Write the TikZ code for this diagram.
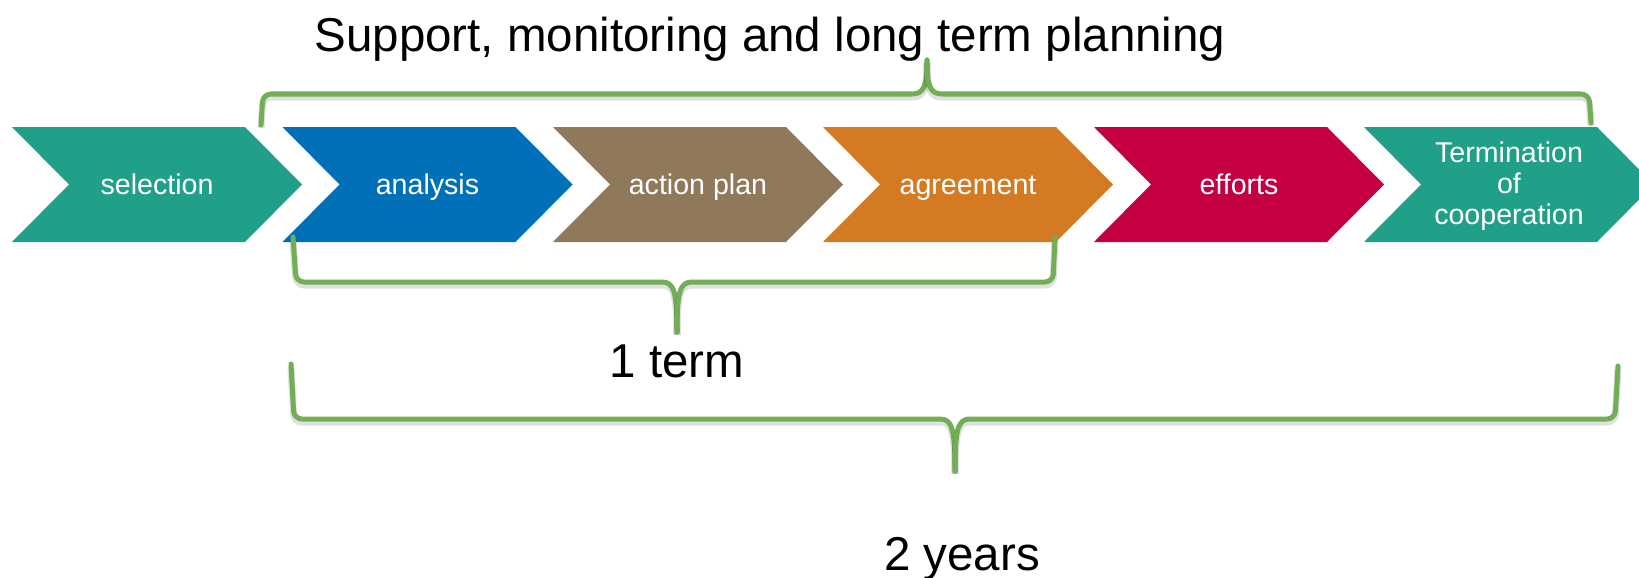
\documentclass[tikz,border=0pt]{standalone}
\usepackage{fontspec}
\setmainfont{Liberation Sans}
\definecolor{cteal}{HTML}{21A089}
\definecolor{cblue}{HTML}{0070B8}
\definecolor{cbrown}{HTML}{90785A}
\definecolor{corange}{HTML}{D47A22}
\definecolor{ccrimson}{HTML}{C40040}
\definecolor{bgreen}{HTML}{72AE56}
\begin{document}
\begin{tikzpicture}[x=1pt,y=-1pt,
  chevlabel/.style={text=white, font=\fontsize{28.6}{31}\selectfont, inner sep=0pt, anchor=base},
  biglabel/.style={text=black, font=\fontsize{47.5}{52}\selectfont, inner sep=0pt, anchor=base},
  brace/.style={draw=bgreen, line width=5pt, line cap=round, line join=round,
    preaction={draw=black, opacity=0.12, line width=7pt, transform canvas={yshift=-3pt}}}]
\useasboundingbox (0,0) rectangle (1639,578);
\clip (0,0) rectangle (1639,578);
% chevrons
\foreach \l/\c in {12/cteal, 282.5/cblue, 553/cbrown, 823/corange, 1094/ccrimson, 1364/cteal}{
  \fill[\c] (\l,127) -- ++(233,0) -- ++(57,57.5) -- ++(-57,57.5) -- ++(-233,0) -- ++(57,-57.5) -- cycle;
}
\node[chevlabel] (sel) at (157,194) {selection};
\node[chevlabel] (ana) at (427.5,194) {analysis};
\node[chevlabel] (act) at (698,194) {action plan};
\node[chevlabel] (agr) at (968,194) {agreement};
\node[chevlabel] (eff) at (1239,194) {efforts};
\node[chevlabel, anchor=center, align=center] (ter) at (1509,186) {Termination\\of\\cooperation};
% top brace
\draw[brace] (261,125) [rounded corners=8pt] -- (263,94) [sharp corners] -- (912,94) .. controls (924,94) and (927,86) .. (927,60);
\draw[brace] (927,60) .. controls (927,86) and (930,94) .. (942,94) [rounded corners=8pt] -- (1589,94) [sharp corners] -- (1591,123);
% 1 term brace
\draw[brace] (293,237) [rounded corners=8pt] -- (296,282) [sharp corners] -- (662,282) .. controls (674,282) and (677,292) .. (677,332);
\draw[brace] (677,332) .. controls (677,292) and (680,282) .. (692,282) [rounded corners=8pt] -- (1053,282) [sharp corners] -- (1055,237);
% 2 years brace
\draw[brace] (291,364) [rounded corners=8pt] -- (294,419) [sharp corners] -- (940,419) .. controls (952,419) and (955,429) .. (955,471);
\draw[brace] (955,471) .. controls (955,429) and (958,419) .. (970,419) [rounded corners=8pt] -- (1615,419) [sharp corners] -- (1618,366);
% labels
\node[biglabel] (title) at (770,52) {Support, monitoring and long term planning};
\node[biglabel] (oneterm) at (677,377) {1 term};
\node[biglabel] (twoyears) at (962,570) {2 years};
\end{tikzpicture}
\end{document}
